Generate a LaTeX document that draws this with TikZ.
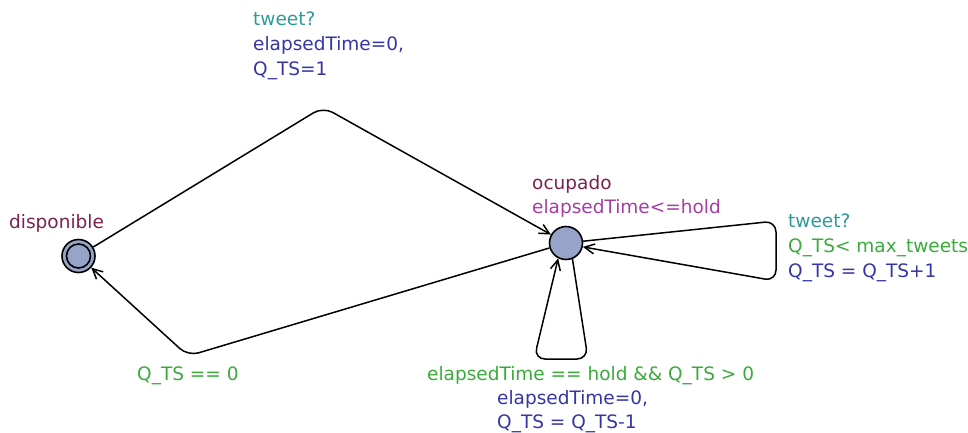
\documentclass[tikz,border=0pt]{standalone}
\usepackage{fontspec}
\setmainfont{DejaVu Sans}
\usetikzlibrary{arrows.meta}
\definecolor{locname}{HTML}{7B2150}
\definecolor{invcol}{HTML}{A63CA6}
\definecolor{synccol}{HTML}{2E9A9A}
\definecolor{guardcol}{HTML}{3AAA3A}
\definecolor{updcol}{HTML}{3535A5}
\definecolor{locfill}{HTML}{97A3C9}
\tikzset{
  loc/.style={circle, draw=black, line width=1.6pt, fill=locfill, minimum size=33pt, inner sep=0pt},
  lbl/.style={anchor=base west, inner sep=0pt, font=\fontsize{18.5}{25}\selectfont},
  edge/.style={line width=1.5pt, rounded corners=11pt, -{Straight Barb[length=10pt,width=10pt,line width=1.5pt]}},
}
\begin{document}
\begin{tikzpicture}[x=1pt,y=-1pt]
\useasboundingbox (0,0) rectangle (968,432);
% locations
\node[loc] (d) at (78.5,256) {};
\draw[line width=1.6pt] (d.center) circle (12pt);
\node[loc] (o) at (566,243) {};
% location labels
\node[lbl, text=locname] (dn) at (9,228) {disponible};
\node[lbl, text=locname] (on) at (532,189) {ocupado};
\node[lbl, text=invcol] (oi) at (532,213) {elapsedTime<=hold};
% corner coordinates
\coordinate (t1) at (323,107);
\coordinate (b1) at (188,356);
\coordinate (r1) at (776,221);
\coordinate (r2) at (776,281);
\coordinate (s1) at (588,359);
\coordinate (s2) at (534,359);
% edges
\draw[edge] (d) -- (t1) -- (o);
\draw[edge] (o) -- (b1) -- (d);
\draw[edge] (o.6) -- (r1) -- (r2) -- (o.-13);
\draw[edge] (o.-68) -- (s1) -- (s2) -- (o.-117);
% edge labels
\node[lbl, text=synccol] (l1a) at (253,25) {tweet?};
\node[lbl, text=updcol] (l1b) at (253,50) {elapsedTime=0,};
\node[lbl, text=updcol] (l1c) at (253,75) {Q\_TS=1};
\node[lbl, text=guardcol] (l2a) at (137,380) {Q\_TS == 0};
\node[lbl, text=synccol] (l3a) at (788,227) {tweet?};
\node[lbl, text=guardcol] (l3b) at (788,252) {Q\_TS< max\_tweets};
\node[lbl, text=updcol] (l3c) at (788,277) {Q\_TS = Q\_TS+1};
\node[lbl, text=guardcol] (l4a) at (427,380) {elapsedTime == hold \&\& Q\_TS > 0};
\node[lbl, text=updcol] (l4b) at (497,404) {elapsedTime=0,};
\node[lbl, text=updcol] (l4c) at (497,428) {Q\_TS = Q\_TS-1};
\end{tikzpicture}
\end{document}
